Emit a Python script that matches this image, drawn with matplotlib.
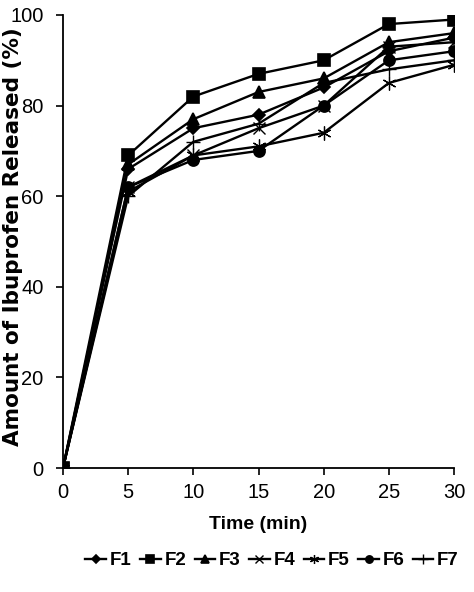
import matplotlib
matplotlib.use("Agg")
import matplotlib.pyplot as plt

plt.rcParams['font.family'] = ['Liberation Sans', 'DejaVu Sans']

time = [0, 5, 10, 15, 20, 25, 30]
F1 = [0, 66, 75, 78, 84, 92, 95]
F2 = [0, 69, 82, 87, 90, 98, 99]
F3 = [0, 67, 77, 83, 86, 94, 96]
F4 = [0, 62, 69, 75, 80, 93, 94]
F5 = [0, 61, 69, 71, 74, 85, 89]
F6 = [0, 62, 68, 70, 80, 90, 92]
F7 = [0, 60, 72, 76, 85, 88, 90]
labels = ["F1", "F2", "F3", "F4", "F5", "F6", "F7"]
series = [F1, F2, F3, F4, F5, F6, F7]
markers = ["D", "s", "^", "x", (6, 2, 0), "o", "+"]
msizes = [6, 8, 8, 8, 10, 8, 10]
mews = [1.2, 1.2, 1.2, 1.0, 0.9, 1.2, 1.0]

fig = plt.figure(figsize=(4.74, 5.92), dpi=100)
ax = fig.add_axes([63/474, 1-468/592, (454-63)/474, (468-15)/592])
for s, lab, m, ms, mw in zip(series, labels, markers, msizes, mews):
    ax.plot(time, s, color='black', lw=1.7, marker=m, ms=ms, mew=mw, label=lab)

ax.set_xlim(0, 30)
ax.set_ylim(0, 100)
ax.set_xticks(range(0, 31, 5))
ax.set_yticks(range(0, 101, 20))
ax.spines['top'].set_visible(False)
ax.spines['right'].set_visible(False)
ax.spines['left'].set_linewidth(1.3)
ax.spines['bottom'].set_linewidth(1.3)
ax.tick_params(direction='out', length=5, width=1.2, labelsize=14.5)
ax.tick_params(axis='x', pad=6)
ax.tick_params(axis='y', pad=9)
ax.set_xlabel("Time (min)", fontsize=14, fontweight='bold', labelpad=0)
ax.xaxis.set_label_coords(0.5, -0.105)
ax.set_ylabel("Amount of Ibuprofen Released (%)", fontsize=15.5, fontweight='bold',
              family='DejaVu Sans')
ax.yaxis.set_label_coords(-0.103, 0.51)
ax.legend(loc='center', bbox_to_anchor=(0.535, -0.205), ncol=7, frameon=False,
          handlelength=1.1, handletextpad=0.2, columnspacing=0.45,
          prop={'weight': 'bold', 'size': 13.5}, markerscale=0.65)
fig.savefig("out.png", dpi=100)
